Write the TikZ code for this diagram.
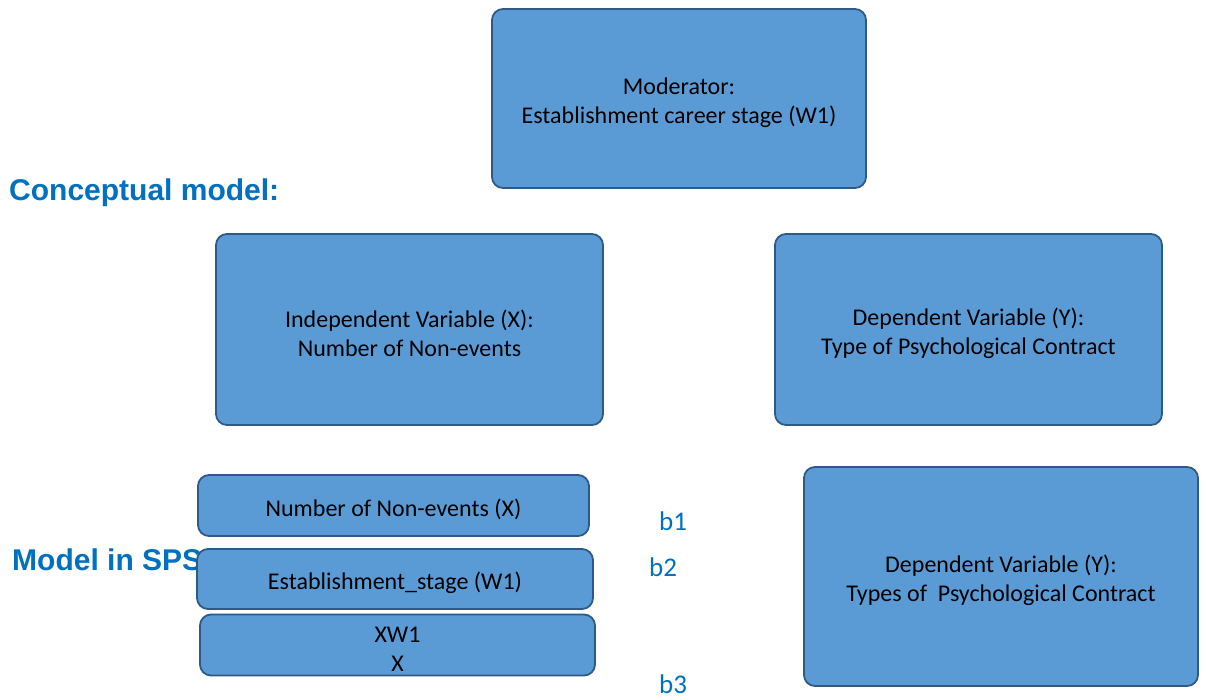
\documentclass[tikz,border=0pt]{standalone}
\usepackage{fontspec}
\setmainfont{Carlito}
\newfontfamily\headfont{Liberation Sans}
\definecolor{boxfill}{HTML}{5B9BD5}
\definecolor{boxline}{HTML}{2F5A87}
\definecolor{headblue}{HTML}{0070C0}
\begin{document}
\begin{tikzpicture}[x=1pt,y=-1pt,
  varbox/.style={draw=boxline, line width=1.8pt, fill=boxfill, rounded corners=11pt,
    align=center, inner sep=0pt, text height=25pt,
    font=\fontsize{24}{29}\selectfont, text=black},
  twoline/.style={text height=55pt},
  heading/.style={anchor=base west, inner sep=0pt, text=headblue,
    font=\headfont\bfseries\fontsize{30}{34}\selectfont},
  coef/.style={inner sep=0pt, text=headblue, font=\fontsize{27}{30}\selectfont}]
\useasboundingbox (0,0) rectangle (1206,699);

% section headings
\node[heading] (conc) at (9,200) {Conceptual model:};
\node[heading] (spss) at (12,570) {Model in SPSS};

% conceptual model
\node[varbox, twoline, minimum width=374pt, minimum height=179pt] (mod) at (679,98.5)
  {Moderator:\\Establishment career stage (W1)};
\node[varbox, twoline, minimum width=387pt, minimum height=191pt] (iv) at (409.5,329.5)
  {Independent Variable (X):\\Number of Non-events};
\node[varbox, twoline, minimum width=387pt, minimum height=191pt] (dv) at (968.5,329.5)
  {Dependent Variable (Y):\\Type of Psychological Contract};

% statistical model
\node[varbox, minimum width=391pt, minimum height=61pt] (x) at (393.5,505.5)
  {Number of Non-events (X)};
\node[varbox, minimum width=396pt, minimum height=60pt] (w) at (395,579)
  {Establishment\_stage (W1)};
\node[varbox, twoline, text height=52pt, minimum width=395pt, minimum height=61pt] (xw) at (397.5,645)
  {XW1\\X};
\node[varbox, twoline, minimum width=394pt, minimum height=219pt] (dv2) at (1001,576.5)
  {Dependent Variable (Y):\\Types of\ \ Psychological Contract};

% path coefficients
\node[coef] (b1) at (673,521) {b1};
\node[coef] (b2) at (663,567) {b2};
\node[coef] (b3) at (673,684) {b3};
\end{tikzpicture}
\end{document}
